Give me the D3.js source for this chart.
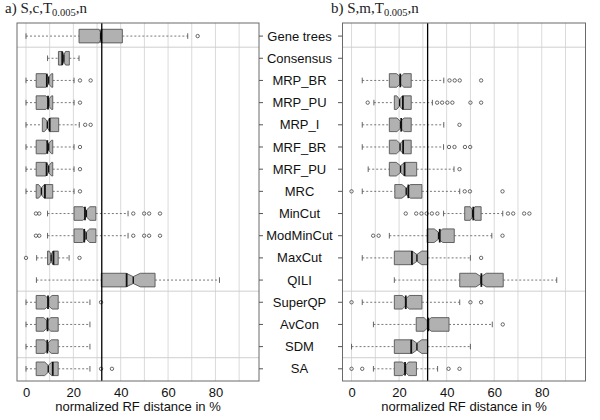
<!DOCTYPE html>
<html>
<head>
<meta charset="utf-8">
<script src="https://cdn.jsdelivr.net/npm/d3@7"></script>
<style>
  body { margin: 0; background: #fff; }
  svg text { font-family: "Liberation Sans", Arial, sans-serif; }
  svg text.title { font-family: "Liberation Serif", "DejaVu Serif", serif; }
</style>
</head>
<body>
<svg id="chart" width="600" height="420"></svg>
<script>
// ---- data ----
var methods = ["Gene trees", "Consensus", "MRP_BR", "MRP_PU", "MRP_I", "MRF_BR", "MRF_PU", "MRC",
               "MinCut", "ModMinCut", "MaxCut", "QILI", "SuperQP", "AvCon", "SDM", "SA"];
var xTicks = [0, 20, 40, 60, 80];
var refLine = 32;
var separators = [0.5, 11.5, 14.5];

// panel a) S,c,T0.005,n
var loA    = [0, 9.1, 0, 0, 0, 0, 0, 0, 9.1, 9.1, 4.5, 4.4, 0, 0, 0, 0];
var q1A    = [22.4, 13.7, 4.3, 4.3, 6.9, 4.3, 4.3, 4.3, 20.3, 20.3, 9.1, 31.8, 4.3, 4.3, 4.3, 4.3];
var medA   = [31.5, 16.0, 9.6, 9.6, 9.0, 9.6, 9.6, 6.5, 25.5, 25.4, 10.6, 45.3, 9.5, 9.0, 9.2, 9.4];
var q3A    = [40.7, 18.3, 11.3, 11.3, 13.8, 11.3, 11.3, 11.3, 29.5, 29.5, 13.6, 54.5, 13.6, 13.6, 13.6, 13.6];
var hiA    = [68.3, 22.4, 20.3, 20.3, 22.5, 20.3, 20.3, 20.3, 43.1, 43.1, 18.2, 81.7, 27.0, 27.0, 27.0, 27.0];
var meanA  = [31.8, 15.3, 8.8, 9.3, 10.0, 9.0, 8.7, 8.0, 24.9, 24.6, 11.6, 42.5, 9.3, 9.1, 9.0, 11.3];
var notchA = [0.6, 0.7, 1.2, 1.2, 1.2, 1.2, 1.2, 1.2, 1.5, 1.5, 0.8, 3.0, 1.5, 1.5, 1.5, 1.5];
var outA   = [[72.5], [], [22.8, 27.3], [22.8], [25.0, 27.3], [22.8], [22.8], [22.8],
              [4.2, 5.6, 45.3, 49.9, 52.0, 56.6], [4.2, 5.6, 45.3, 49.9, 52.0, 56.6],
              [0, 22.6], [], [31.7], [], [], [31.7, 36.3]];

// panel b) S,m,T0.005,n
var loB    = [null, null, 4.5, 9.4, 4.5, 4.5, 7.0, 4.5, 38.7, 15.9, 4.5, 18.0, 4.5, 9.2, 0, 9.2];
var q1B    = [null, null, 15.9, 18.0, 15.9, 15.9, 15.9, 18.2, 47.6, 31.8, 18.0, 45.5, 18.0, 27.2, 18.0, 18.0];
var medB   = [null, null, 20.5, 20.2, 20.6, 20.4, 20.6, 23.0, 50.9, 36.6, 27.5, 54.5, 22.8, 32.0, 27.5, 22.7];
var q3B    = [null, null, 25.1, 25.1, 25.1, 25.1, 27.4, 29.6, 54.5, 43.2, 32.0, 63.8, 29.6, 41.0, 32.0, 27.3];
var hiB    = [null, null, 38.8, 34.0, 38.8, 38.7, 43.1, 45.5, 63.6, 59.0, 50.0, 86.3, 45.5, 59.2, 50.0, 36.2];
var meanB  = [null, null, 20.5, 21.6, 20.9, 21.7, 22.3, 23.9, 51.2, 37.1, 25.4, 54.6, 22.8, 32.3, 25.1, 22.5];
var notchB = [null, null, 1.5, 1.2, 1.5, 1.5, 1.8, 1.8, 1.0, 1.8, 2.0, 2.2, 1.5, 1.5, 2.0, 1.3];
var outB   = [[], [], [41.2, 43.4, 45.5, 54.5], [6.8, 36.0, 38.1, 40.3, 42.4, 50.0, 54.5], [45.4],
              [41.0, 43.3, 47.7, 49.9], [45.4], [0, 47.6, 49.8, 63.5],
              [22.8, 27.2, 29.4, 31.6, 33.8, 36.1, 65.8, 68.0, 72.6, 74.8], [9.1, 11.4, 63.5],
              [54.5], [], [0, 50.0, 54.5], [63.6], [], [0, 4.5, 40.8, 45.4]];

// ---- layout ----
var svg = d3.select("#chart");
var plotTop = 23, plotBottom = 381;
var boxH = 6.8;   // half height of a box
var gridColor = "#dadada", lineColor = "#555";

var y = d3.scaleLinear().domain([-0.59, 15.55]).range([plotTop, plotBottom]);

function rows(lo, q1, med, q3, hi, mean, notch, outs) {
  return methods.map(function(m, i) {
    return {name: m, i: i, lo: lo[i], q1: q1[i], med: med[i], q3: q3[i], hi: hi[i],
            mean: mean[i], notch: notch[i], out: outs[i]};
  });
}

function drawPanel(left, right, data, title, letter) {
  var x = d3.scaleLinear().domain([-3.8, 98.4]).range([left, right]);
  var g = svg.append("g");

  // grid
  g.selectAll(".vgrid").data(d3.range(0, 100, 10)).enter().append("line")
    .attr("x1", function(d) { return x(d); }).attr("x2", function(d) { return x(d); })
    .attr("y1", plotTop).attr("y2", plotBottom)
    .attr("stroke", gridColor).attr("stroke-width", 1);
  g.selectAll(".hgrid").data(separators).enter().append("line")
    .attr("x1", left).attr("x2", right)
    .attr("y1", function(d) { return y(d); }).attr("y2", function(d) { return y(d); })
    .attr("stroke", "#cfcfcf").attr("stroke-width", 1);

  var rowsG = g.selectAll(".row").data(data.filter(function(d) { return d.lo !== null; }))
    .enter().append("g")
    .attr("transform", function(d) { return "translate(0," + y(d.i) + ")"; });

  // whiskers
  rowsG.append("line")
    .attr("x1", function(d) { return x(d.lo); }).attr("x2", function(d) { return x(d.q1); })
    .attr("stroke", lineColor).attr("stroke-width", 0.8).attr("stroke-dasharray", "2,2");
  rowsG.append("line")
    .attr("x1", function(d) { return x(d.q3); }).attr("x2", function(d) { return x(d.hi); })
    .attr("stroke", lineColor).attr("stroke-width", 0.8).attr("stroke-dasharray", "2,2");
  ["lo", "hi"].forEach(function(k) {
    rowsG.append("line")
      .attr("x1", function(d) { return x(d[k]); }).attr("x2", function(d) { return x(d[k]); })
      .attr("y1", -2.8).attr("y2", 2.8)
      .attr("stroke", lineColor).attr("stroke-width", 0.9);
  });

  // notched box
  rowsG.append("path")
    .attr("d", function(d) {
      var a = x(d.q1), b = x(d.q3), m = x(d.med);
      var n1 = x(d.med - d.notch), n2 = x(d.med + d.notch);
      return "M" + a + "," + (-boxH) + "L" + n1 + "," + (-boxH) + "L" + m + "," + (-boxH / 2) +
             "L" + n2 + "," + (-boxH) + "L" + b + "," + (-boxH) + "L" + b + "," + boxH +
             "L" + n2 + "," + boxH + "L" + m + "," + (boxH / 2) + "L" + n1 + "," + boxH +
             "L" + a + "," + boxH + "Z";
    })
    .attr("fill", "#b1b1b1").attr("stroke", "#555").attr("stroke-width", 0.9);

  // median (short) and mean (full height)
  rowsG.append("line")
    .attr("x1", function(d) { return x(d.med); }).attr("x2", function(d) { return x(d.med); })
    .attr("y1", -boxH / 2).attr("y2", boxH / 2)
    .attr("stroke", "#111").attr("stroke-width", 1.4);
  rowsG.append("line")
    .attr("x1", function(d) { return x(d.mean); }).attr("x2", function(d) { return x(d.mean); })
    .attr("y1", -boxH).attr("y2", boxH)
    .attr("stroke", "#111").attr("stroke-width", 1.8);

  // outliers
  rowsG.selectAll("circle").data(function(d) { return d.out; }).enter().append("circle")
    .attr("cx", function(v) { return x(v); }).attr("cy", 0).attr("r", 1.7)
    .attr("fill", "none").attr("stroke", "#444").attr("stroke-width", 0.8);

  // reference line
  g.append("line")
    .attr("x1", x(refLine)).attr("x2", x(refLine)).attr("y1", plotTop).attr("y2", plotBottom)
    .attr("stroke", "#000").attr("stroke-width", 1.3);

  // frame
  g.append("rect").attr("x", left).attr("y", plotTop)
    .attr("width", right - left).attr("height", plotBottom - plotTop)
    .attr("fill", "none").attr("stroke", "#6a6a6a").attr("stroke-width", 1);

  // x axis
  var ax = g.append("g").attr("transform", "translate(0," + plotBottom + ")")
    .call(d3.axisBottom(x).tickValues(xTicks).tickSize(0).tickPadding(7));
  ax.select(".domain").remove();
  ax.selectAll("text").attr("font-size", 13).attr("fill", "#111");

  g.append("text").attr("x", (left + right) / 2).attr("y", 411)
    .attr("text-anchor", "middle").attr("font-size", 13).attr("fill", "#111")
    .text("normalized RF distance in %");

  // title with subscript
  var t = svg.append("text").attr("class", "title")
    .attr("x", letter === "a" ? 5 : 331).attr("y", 13)
    .attr("font-size", 15).attr("fill", "#222");
  t.append("tspan").text(letter + ") " + title[0]);
  t.append("tspan").attr("font-size", 10.5).attr("dy", 3).text(title[1]);
  t.append("tspan").attr("dy", -3).text(title[2]);

  return x;
}

drawPanel(17, 259, rows(loA, q1A, medA, q3A, hiA, meanA, notchA, outA), ["S,c,T", "0.005", ",n"], "a");
drawPanel(342.5, 585.5, rows(loB, q1B, medB, q3B, hiB, meanB, notchB, outB), ["S,m,T", "0.005", ",n"], "b");

// method labels with ticks on both inner sides
var lab = svg.append("g");
lab.selectAll("text").data(methods).enter().append("text")
  .attr("x", 299.5).attr("y", function(d, i) { return y(i); })
  .attr("dy", "0.35em").attr("text-anchor", "middle")
  .attr("font-size", 13).attr("fill", "#111")
  .text(function(d) { return d; });
lab.selectAll(".tl").data(methods).enter().append("line")
  .attr("x1", 259).attr("x2", 263)
  .attr("y1", function(d, i) { return y(i); }).attr("y2", function(d, i) { return y(i); })
  .attr("stroke", "#555");
lab.selectAll(".tr").data(methods).enter().append("line")
  .attr("x1", 338).attr("x2", 342.5)
  .attr("y1", function(d, i) { return y(i); }).attr("y2", function(d, i) { return y(i); })
  .attr("stroke", "#555");
</script>
</body>
</html>
